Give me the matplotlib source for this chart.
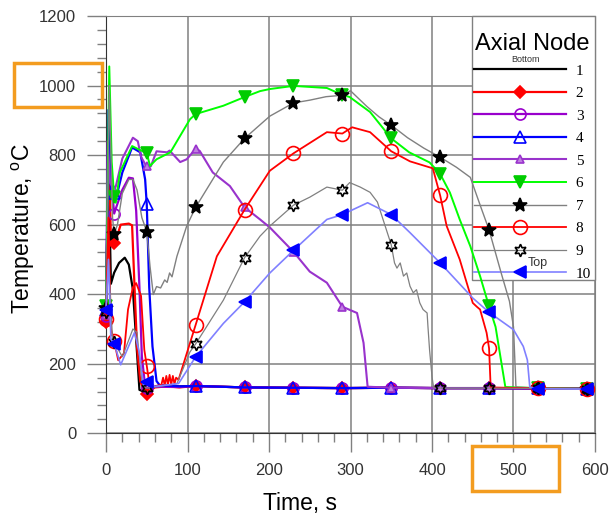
import matplotlib
matplotlib.use('Agg')
import matplotlib.pyplot as plt
from matplotlib.ticker import MultipleLocator
from matplotlib.patches import Rectangle
from matplotlib.lines import Line2D

plt.rcParams['font.family'] = ['Liberation Sans', 'DejaVu Sans']

# times where the markers sit (s)
mark_t = [0, 10, 50, 110, 170, 230, 290, 350, 410, 470, 530, 590]

# common flat tail after quench (~130 C)
tail_t = [110, 170, 230, 290, 350, 410, 470, 530, 590]
tail_T = [136, 132, 131, 130, 131, 130, 130, 129, 128]

t1 = [0, 3, 6, 10, 16, 23, 28, 33, 37, 41, 46, 50, 55, 74, 90] + tail_t
T1 = [360, 780, 430, 462, 490, 505, 485, 413, 269, 125, 120, 128, 134, 139, 135] + tail_T

t2 = [0, 3, 6, 10, 14, 18, 28, 32, 35, 38, 42, 47, 50, 55, 60, 75, 90] + tail_t
T2 = [320, 860, 560, 548, 570, 600, 603, 598, 420, 250, 150, 120, 112, 125, 132, 135, 132] + tail_T

t3 = [0, 2, 5, 10, 14, 20, 28, 33, 37, 41, 44, 48, 50, 60, 90] + tail_t
T3 = [336, 700, 760, 632, 660, 700, 735, 733, 640, 420, 220, 135, 131, 134, 133] + tail_T

t4 = [0, 3, 6, 10, 13, 20, 32, 42, 48, 50, 53, 57, 62, 66, 90] + tail_t
T4 = [355, 930, 700, 690, 682, 750, 822, 808, 730, 658, 420, 250, 150, 138, 135] + tail_T

t5 = [0, 2, 5, 10, 12, 20, 33, 39, 43, 49, 50, 55, 62, 75, 78, 91, 99, 110, 115, 131, 152, 170,
      189, 201, 230, 250, 271, 290, 308, 316, 321, 350, 410, 470, 530, 590]
T5 = [340, 840, 720, 700, 710, 790, 850, 840, 795, 770, 768, 768, 811, 808, 813, 780, 788, 818, 812, 750, 711, 650,
      615, 592, 522, 465, 433, 364, 346, 260, 134, 131, 130, 130, 129, 128]

t6 = [0, 4, 7, 10, 12, 17, 32, 44, 50, 54, 62, 79, 103, 110, 144, 170, 189, 201, 230, 271, 290, 299,
      324, 350, 372, 397, 410, 422, 434, 447, 459, 470, 478, 490, 530, 590]
T6 = [365, 1055, 780, 680, 663, 750, 826, 812, 806, 769, 788, 808, 903, 918, 942, 967, 984, 990, 999, 993, 973, 967,
      924, 848, 808, 779, 746, 692, 615, 538, 452, 365, 306, 133, 130, 128]

t7 = [0, 4, 8, 10, 14, 20, 28, 33, 38, 44, 50, 54, 58, 62, 67, 72, 75, 78, 81, 87, 99, 110, 144, 170,
      201, 230, 250, 270, 290, 300, 320, 335, 350, 370, 390, 410, 430, 447, 460, 470, 485, 495, 500, 503, 530, 590]
T7 = [360, 1000, 620, 572, 600, 690, 730, 730, 700, 620, 580, 480, 399, 422, 418, 441, 434, 461, 450, 509, 596, 650, 780, 848,
      912, 950, 958, 968, 972, 985, 940, 910, 886, 850, 820, 794, 765, 736, 650, 585, 460, 380, 306, 133, 130, 128]

t8 = [0, 3, 6, 10, 15, 22, 27, 33, 37, 43, 47, 50, 53, 60, 68, 70, 72, 74, 76, 78, 80, 82, 84, 86, 89,
      110, 136, 170, 201, 230, 271, 290, 302, 324, 350, 373, 401, 410, 418, 434, 450, 455, 459, 467, 470, 472, 530, 590]
T8 = [330, 620, 300, 265, 210, 230, 356, 420, 432, 395, 240, 194, 145, 135, 140, 160, 138, 165, 140, 168, 140, 165, 142, 160, 154,
      312, 509, 643, 755, 805, 866, 862, 880, 866, 811, 782, 762, 684, 596, 500, 375, 364, 356, 289, 245, 132, 129, 128]

t9 = [0, 3, 8, 10, 20, 33, 38, 44, 48, 50, 60, 87, 103, 110, 144, 170, 189, 201, 230, 250, 271, 290, 299,
      312, 324, 333, 350, 354, 357, 361, 365, 369, 373, 377, 381, 385, 389, 394, 395, 397, 400, 402, 410, 470, 530, 590]
T9 = [350, 500, 270, 262, 220, 300, 290, 150, 132, 130, 133, 143, 234, 257, 383, 505, 567, 596, 656, 679, 708, 699, 721,
      708, 693, 665, 542, 490, 475, 490, 452, 461, 423, 404, 413, 375, 356, 346, 308, 240, 163, 131, 130, 130, 129, 128]

t10 = [0, 3, 6, 10, 18, 35, 41, 46, 50, 60, 89, 110, 144, 170, 201, 230, 271, 290, 321, 350, 373, 410,
       450, 470, 500, 512, 517, 520, 530, 590]
T10 = [355, 500, 270, 258, 197, 290, 230, 140, 147, 135, 143, 220, 316, 378, 461, 526, 615, 629, 663, 629, 577, 490,
       389, 348, 298, 250, 211, 133, 128, 127]

labels = ['1', '2', '3', '4', '5', '6', '7', '8', '9', '10']

styles = [
    dict(color='black', lw=1.6, marker=None),
    dict(color='#FF0000', lw=1.6, marker='D', ms=6.5, mfc='#FF0000', mec='#FF0000'),
    dict(color='#9900CC', lw=1.6, marker='o', ms=8, mfc='none', mec='#9900CC'),
    dict(color='#0000FF', lw=1.6, marker='^', ms=8, mfc='none', mec='#0000FF'),
    dict(color='#9933CC', lw=1.5, marker='^', ms=6, mfc='#C080E0', mec='#9933CC'),
    dict(color='#00FF00', lw=1.4, marker='v', ms=9, mfc='#00CC00', mec='#00CC00'),
    dict(color='#808080', lw=1.0, marker='*', ms=10, mfc='black', mec='black'),
    dict(color='#FF0000', lw=1.3, marker='o', ms=10, mfc='none', mec='#FF0000'),
    dict(color='#808080', lw=0.9, marker=(6, 1, 0), ms=9, mfc='none', mec='black'),
    dict(color='#8080FF', lw=1.2, marker='<', ms=9, mfc='#0000FF', mec='#0000FF'),
]

series = [(t1, T1), (t2, T2), (t3, T3), (t4, T4), (t5, T5),
          (t6, T6), (t7, T7), (t8, T8), (t9, T9), (t10, T10)]

fig = plt.figure(figsize=(6.1, 5.18), dpi=100)
ax = fig.add_axes([0.1738, 0.1635, 0.8016, 0.8056])

handles = []
for (t, T), st, lab in zip(series, styles, labels):
    idx = [t.index(m) for m in mark_t if m in t]
    kw = dict(color=st['color'], lw=st['lw'], zorder=6, clip_on=False)
    if st['marker'] is not None:
        kw.update(marker=st['marker'], ms=st['ms'], mfc=st['mfc'], mec=st['mec'],
                  mew=1.2, markevery=idx)
    ax.plot(t, T, **kw)
    hk = dict(kw)
    hk.pop('markevery', None)
    hk.pop('clip_on', None)
    handles.append(Line2D([], [], **hk))

ax.set_xlim(0, 600)
ax.set_ylim(0, 1200)
ax.xaxis.set_major_locator(MultipleLocator(100))
ax.xaxis.set_minor_locator(MultipleLocator(20))
ax.yaxis.set_major_locator(MultipleLocator(200))
ax.yaxis.set_minor_locator(MultipleLocator(40))
ax.grid(True, which='major', color='#808080', lw=1.1)
ax.set_axisbelow(True)
ax.tick_params(which='major', length=13.5, width=1, color='#808080',
               labelsize=12, labelcolor='#333333', pad=8)
ax.tick_params(which='minor', length=6.5, width=1, color='#808080')
for s in ['top', 'right']:
    ax.spines[s].set_color('#808080')
for s in ['left', 'bottom']:
    ax.spines[s].set_color('#333333')

ax.set_xlabel('Time, s', fontsize=16.5)
ax.set_ylabel('Temperature, $\\mathregular{^{o}}$C', fontsize=16.5)
ax.xaxis.set_label_coords(0.397, -0.14)
ax.yaxis.set_label_coords(-0.141, 0.49)

# legend box: white frame hides the grid, the curves stay on top
ax.add_patch(Rectangle((472 / 610, 1 - 280 / 518), 123 / 610, 264 / 518,
                       transform=fig.transFigure, fc='white', ec='#808080',
                       lw=1.0, zorder=4, clip_on=False))
leg = ax.legend(handles, labels, loc='upper right',
                bbox_to_anchor=(591 / 610, 1 - 33 / 518), bbox_transform=fig.transFigure,
                borderaxespad=0, borderpad=0, title='Axial Node', numpoints=1,
                handlelength=6.0, handletextpad=0.65, labelspacing=0.58,
                frameon=False, prop={'family': 'Liberation Serif', 'size': 11})
leg.get_title().set_fontsize(17)
leg.set_zorder(5)

fig.text(526 / 610, 1 - 59 / 518, 'Bottom', fontsize=6.5, ha='center', va='center', color='#333333')
fig.text(538 / 610, 1 - 263 / 518, 'Top', fontsize=9, ha='center', va='center', color='#333333')

# orange highlight boxes
fig.add_artist(Rectangle((14 / 610, 1 - 107 / 518), 88 / 610, 44 / 518,
                         transform=fig.transFigure, fill=False, ec='#F39C1F', lw=2.5))
fig.add_artist(Rectangle((472 / 610, 1 - 491 / 518), 87 / 610, 45 / 518,
                         transform=fig.transFigure, fill=False, ec='#F39C1F', lw=2.5))

fig.savefig('out.png', dpi=100)
